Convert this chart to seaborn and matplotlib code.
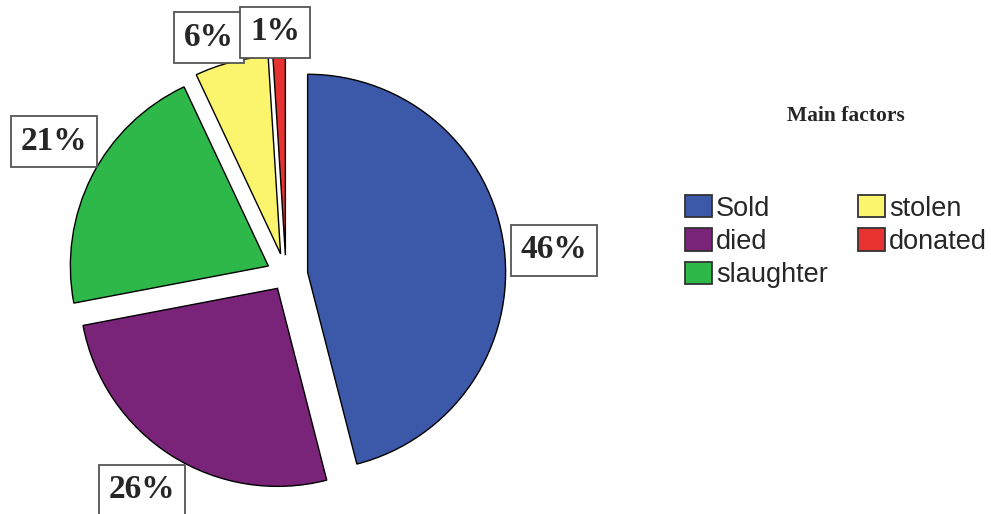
import matplotlib
matplotlib.use("Agg")
import matplotlib.pyplot as plt
import seaborn as sns

# Main factors of herd reduction (percent of cases)
categories = ["Sold", "died", "slaughter", "stolen", "donated"]
shares = [46, 26, 21, 6, 1]
colors_hex = ["#3C58A8", "#7A2479", "#2EB84A", "#FBF56E", "#E83232"]

sns.set_style("white")
plt.rcParams["font.family"] = ["Liberation Sans", "DejaVu Sans"]
palette = sns.color_palette(colors_hex)

W, H = 991, 514
fig = plt.figure(figsize=(W / 100, H / 100), dpi=100)

# pie axes: centre ~ (286, 275) px, radius ~198 px
R = 198.0
cx, cy = 286.0, 275.0
half = 1.3 * R
ax = fig.add_axes([(cx - half) / W, (H - cy - half) / H, 2 * half / W, 2 * half / H])
wedges, _ = ax.pie(
    shares,
    colors=palette,
    startangle=90,
    counterclock=False,
    explode=[0.11, 0.08, 0.1, 0.11, 0.1],
    wedgeprops=dict(edgecolor="black", linewidth=1.0),
)
ax.set_xlim(-1.3, 1.3)
ax.set_ylim(-1.3, 1.3)
ax.set_aspect("equal")
ax.axis("off")

# boxed percentage labels (figure-pixel centres)
label_pos = [(554, 250), (142, 490), (54, 141), (209, 37), (275, 32)]
for v, (px, py) in zip(shares, label_pos):
    fig.text(
        px / W, 1 - py / H, f"{v}%",
        ha="center", va="center",
        fontsize=24, fontweight="bold",
        family=["Liberation Serif", "DejaVu Serif"],
        bbox=dict(boxstyle="square,pad=0.3", facecolor="white",
                  edgecolor="#555555", linewidth=1.3),
        zorder=5,
    )

# legend
fig.text(846 / W, 1 - 116 / H, "Main factors", ha="center", va="center",
         fontsize=15.5, fontweight="bold",
         family=["Liberation Serif", "DejaVu Serif"])
handles = [plt.Rectangle((0, 0), 1, 1, facecolor=c, edgecolor="#333333", linewidth=1.3)
           for c in palette]
leg = fig.legend(
    handles, categories,
    ncol=2,
    loc="upper left",
    bbox_to_anchor=(685 / W, 1 - 195 / H),
    bbox_transform=fig.transFigure,
    frameon=False,
    fontsize=19.5,
    handlelength=1.0,
    handleheight=0.9,
    handletextpad=0.15,
    labelspacing=0.25,
    columnspacing=1.1,
    borderpad=0,
    borderaxespad=0,
)

fig.savefig("out.png", dpi=100)
